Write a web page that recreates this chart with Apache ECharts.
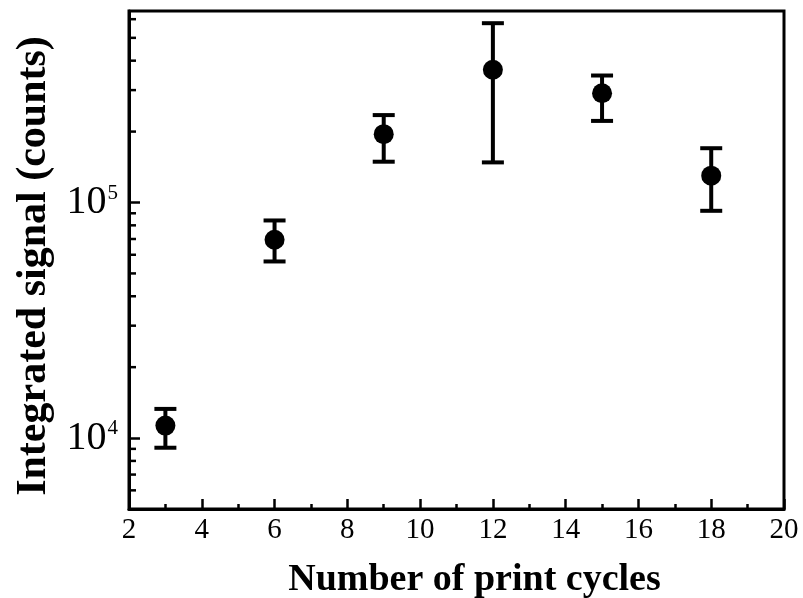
<!DOCTYPE html>
<html>
<head>
<meta charset="utf-8">
<script src="https://cdn.jsdelivr.net/npm/echarts@6/dist/echarts.min.js"></script>
<style>
  html, body { margin: 0; padding: 0; background: #fff; }
  #chart { width: 803px; height: 598px; }
</style>
</head>
<body>
<div id="chart"></div>
<script>
// Integrated signal versus number of print cycles (mean with error range)
const cycles = [3, 6, 9, 12, 15, 18];
const signal = [11300, 69500, 195000, 366000, 291000, 130000];
const errLow = [9100, 56200, 149000, 148000, 222000, 92200];
const errHigh = [13300, 83900, 235000, 577000, 346000, 170000];

// Axis ranges and tick values
const xRange = [2, 20];
const yRange = [5000, 650000];
const yMinorTicks = [6000, 7000, 8000, 9000,
  20000, 30000, 40000, 50000, 60000, 70000, 80000, 90000,
  200000, 300000, 400000, 500000, 600000];

const serif = "'Liberation Serif', 'Times New Roman', serif";

const points = cycles.map((c, i) => [c, signal[i]]);
const bars = cycles.map((c, i) => [c, errLow[i], errHigh[i]]);

const chart = echarts.init(document.getElementById('chart'), null, { renderer: 'canvas' });

chart.setOption({
  animation: false,
  backgroundColor: '#fff',
  grid: {
    left: 129, right: 19, top: 11, bottom: 89,
    outerBoundsMode: 'none',
    containLabel: false,
    show: true, borderColor: '#000', borderWidth: 3, backgroundColor: 'transparent'
  },
  xAxis: {
    type: 'value',
    min: xRange[0], max: xRange[1], interval: 2,
    name: 'Number of print cycles',
    nameLocation: 'middle',
    nameGap: 52,
    nameTextStyle: {
      fontFamily: serif, fontWeight: 'bold', fontSize: 38, color: '#000',
      padding: [0, 0, 0, 36]
    },
    axisLine: { lineStyle: { color: '#000', width: 3 } },
    axisTick: { inside: true, length: 10, lineStyle: { color: '#000', width: 2.5 } },
    minorTick: { show: true, splitNumber: 2, length: 5, lineStyle: { color: '#000', width: 2.5 } },
    splitLine: { show: false },
    axisLabel: { fontFamily: serif, fontSize: 29, color: '#000', margin: 7 }
  },
  yAxis: {
    type: 'log', logBase: 10,
    min: yRange[0], max: yRange[1],
    name: 'Integrated signal (counts)',
    nameLocation: 'middle',
    nameRotate: 90,
    nameGap: 72,
    nameTextStyle: {
      fontFamily: serif, fontWeight: 'bold', fontSize: 42, color: '#000',
      padding: [0, 12, 0, 0]
    },
    axisLine: { lineStyle: { color: '#000', width: 3 } },
    axisTick: { inside: true, length: 11, lineStyle: { color: '#000', width: 2.5 } },
    splitLine: { show: false },
    axisLabel: {
      showMinLabel: false, showMaxLabel: false,
      margin: 11,
      formatter: function (v) {
        const e = Math.log10(v);
        if (Math.abs(e - Math.round(e)) > 1e-6) return '';
        return '{b|10}{s|' + Math.round(e) + '}';
      },
      rich: {
        b: { fontFamily: serif, fontSize: 40, color: '#000' },
        s: { fontFamily: serif, fontSize: 21, color: '#000', verticalAlign: 'top', padding: [0, 0, 6, 1] }
      }
    }
  },
  series: [
    {
      // short inward minor ticks on the logarithmic axis
      type: 'custom',
      silent: true,
      data: yMinorTicks.map(v => [xRange[0], v]),
      renderItem: function (params, api) {
        const p = api.coord([api.value(0), api.value(1)]);
        return {
          type: 'line',
          shape: { x1: p[0], y1: p[1], x2: p[0] + 7, y2: p[1] },
          style: { stroke: '#000', lineWidth: 2.5 }
        };
      },
      z: 3
    },
    {
      // error bars with caps
      type: 'custom',
      silent: true,
      data: bars,
      renderItem: function (params, api) {
        const x = api.value(0);
        const lo = api.coord([x, api.value(1)]);
        const hi = api.coord([x, api.value(2)]);
        const half = 11;
        const st = { stroke: '#000', lineWidth: 4 };
        return {
          type: 'group',
          children: [
            { type: 'line', shape: { x1: lo[0], y1: lo[1], x2: hi[0], y2: hi[1] }, style: st },
            { type: 'line', shape: { x1: hi[0] - half, y1: hi[1], x2: hi[0] + half, y2: hi[1] }, style: st },
            { type: 'line', shape: { x1: lo[0] - half, y1: lo[1], x2: lo[0] + half, y2: lo[1] }, style: st }
          ]
        };
      },
      z: 4
    },
    {
      type: 'scatter',
      data: points,
      symbol: 'circle',
      symbolSize: 20,
      itemStyle: { color: '#000', opacity: 1 },
      z: 5
    }
  ]
});
</script>
</body>
</html>
